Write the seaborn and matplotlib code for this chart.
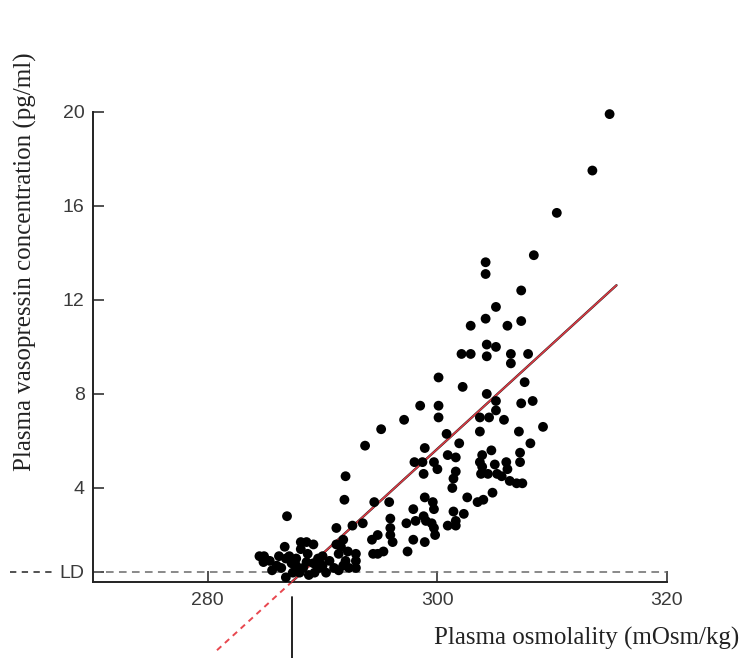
import matplotlib
matplotlib.use("Agg")
import matplotlib.pyplot as plt
from matplotlib.lines import Line2D
import seaborn as sns
import pandas as pd

# ---- data ----
osmolality = [
    315.0, 313.5, 310.4, 308.4, 304.2, 304.2, 307.3, 305.1, 304.2, 302.9,
    306.1, 307.3, 304.3, 305.1, 302.1, 302.9, 304.3, 306.4, 306.4, 307.9,
    300.1, 302.2, 304.3, 307.6, 305.1, 307.3, 308.3, 300.1, 298.5, 300.1,
    297.1, 295.1, 293.7, 305.1, 303.7, 304.5, 305.8, 309.2, 303.7, 307.1,
    300.8, 301.9, 308.1, 300.9, 301.6, 303.9, 304.7, 307.2, 307.2, 303.7,
    305.0, 306.0, 306.1, 303.8, 304.4, 305.2, 305.6, 301.6, 301.4, 301.3,
    306.3, 306.9, 307.4, 304.8, 302.6, 303.5, 304.0, 301.4, 302.3, 301.6,
    300.9, 301.6, 298.9, 298.0, 298.7, 299.7, 300.0, 298.8, 292.0, 291.9,
    294.5, 295.8, 298.9, 299.6, 299.7, 297.9, 295.9, 292.6, 293.5, 298.8,
    299.0, 299.5, 298.1, 297.3, 299.7, 295.9, 295.9, 296.1, 294.8, 294.3,
    297.9, 299.8, 298.9, 297.4, 294.4, 294.8, 295.3, 291.6, 291.4, 292.2,
    292.9, 292.9, 292.9, 292.0, 291.8, 292.3, 291.4, 286.9, 291.2, 286.7,
    288.6, 284.9, 284.85, 285.4, 286.0, 286.4, 287.1, 287.7, 288.1, 288.7,
    288.6, 288.3, 289.2, 289.6, 290.0, 290.6, 291.0, 286.8, 287.4, 288.0,
    289.3, 290.3, 291.2, 287.3, 286.8, 289.2, 291.8, 284.5, 285.6, 287.7,
    289.7, 288.8, 286.2, 288.1, 290.0, 303.9,
]
vasopressin = [
    19.9, 17.5, 15.7, 13.9, 13.6, 13.1, 12.4, 11.7, 11.2, 10.9,
    10.9, 11.1, 10.1, 10.0, 9.7, 9.7, 9.6, 9.7, 9.3, 9.7,
    8.7, 8.3, 8.0, 8.5, 7.7, 7.6, 7.7, 7.5, 7.5, 7.0,
    6.9, 6.5, 5.8, 7.3, 7.0, 7.0, 6.9, 6.6, 6.4, 6.4,
    6.3, 5.9, 5.9, 5.4, 5.3, 5.4, 5.6, 5.5, 5.1, 5.1,
    5.0, 5.1, 4.8, 4.6, 4.6, 4.6, 4.5, 4.7, 4.4, 4.0,
    4.3, 4.2, 4.2, 3.8, 3.6, 3.4, 3.5, 3.0, 2.9, 2.6,
    2.4, 2.4, 5.7, 5.1, 5.1, 5.1, 4.8, 4.6, 4.5, 3.5,
    3.4, 3.4, 3.6, 3.4, 3.1, 3.1, 2.7, 2.4, 2.5, 2.8,
    2.6, 2.5, 2.6, 2.5, 2.3, 2.3, 2.0, 1.7, 2.0, 1.8,
    1.8, 2.0, 1.7, 1.3, 1.2, 1.2, 1.3, 1.5, 1.2, 1.3,
    1.2, 0.9, 0.6, 0.9, 0.7, 0.6, 0.5, 2.8, 2.3, 1.5,
    1.7, 1.1, 0.85, 0.9, 0.7, 0.6, 1.1, 1.0, 1.4, 1.2,
    0.85, 0.6, 0.8, 1.0, 0.7, 0.9, 0.6, 0.2, 0.4, 0.4,
    0.4, 0.4, 1.6, 0.8, 1.0, 1.6, 1.8, 1.1, 0.5, 0.7,
    0.6, 0.3, 1.1, 1.7, 1.1, 4.9,
]
x_ticks = [280, 300, 320]
x_tick_labels = ["280", "300", "320"]
y_ticks = [4, 8, 12, 16, 20]
y_tick_labels = ["4", "8", "12", "16", "20"]
detection_limit = 0.43          # "LD"
threshold = 287.3               # osmotic threshold (x-intercept)
slope = 0.446                   # pg/ml per mOsm/kg
fit_end = 315.6
dashed_start = 280.8
x_range = [270, 320]
y_range = [-3.23, 20.5]

# ---- figure ----
sns.set_style("white")
plt.rcParams["font.family"] = ["Liberation Sans", "DejaVu Sans"]

fig = plt.figure(figsize=(7.52, 6.58), dpi=100)
ax = fig.add_axes([93 / 752, 0.0, 574 / 752, 558 / 658])
ax.set_facecolor("none")
fig.patch.set_facecolor("white")

df = pd.DataFrame({"osm": osmolality, "avp": vasopressin})

# LD dashed line inside the plot
ax.plot(x_range, [detection_limit, detection_limit], color="#6a6a6a",
        lw=1.1, ls=(0, (5, 3.5)), zorder=1)

# regression line: dashed extrapolation + solid fit
ax.plot([dashed_start, threshold],
        [slope * (dashed_start - threshold), 0.0],
        color="#e8474f", lw=1.4, ls=(0, (3, 2.5)), zorder=2)
ax.plot([threshold, fit_end], [0.0, slope * (fit_end - threshold)],
        color="#2a2020", lw=1.7, solid_capstyle="round", zorder=2)
ax.plot([threshold, fit_end], [0.0, slope * (fit_end - threshold)],
        color="#e03a44", lw=1.1, zorder=3)

# vertical threshold marker below the axis
ax.plot([threshold, threshold], [-0.65, y_range[0]], color="#111111",
        lw=1.3, zorder=2, clip_on=False)

sns.scatterplot(data=df, x="osm", y="avp", ax=ax, color="black", s=50,
                edgecolor="none", linewidth=0, zorder=4, legend=False,
                clip_on=False)

ax.set_xlim(*x_range)
ax.set_ylim(*y_range)

for side in ["top", "right"]:
    ax.spines[side].set_visible(False)
ax.spines["bottom"].set_position(("data", 0))
ax.spines["bottom"].set_bounds(x_range[0], x_range[1])
ax.spines["left"].set_bounds(0, 20)
for side in ["bottom", "left"]:
    ax.spines[side].set_color("#222222")
    ax.spines[side].set_linewidth(1.4)

ax.set_xticks(x_ticks)
ax.set_xticklabels(x_tick_labels)
ax.set_yticks([detection_limit] + y_ticks)
ax.set_yticklabels(["LD"] + y_tick_labels)
ax.tick_params(axis="both", direction="in", length=8, width=1.1,
               color="#222222", labelsize=14, labelcolor="#3a3a3a",
               bottom=True, left=True, top=False, right=False)
ax.tick_params(axis="x", pad=7)
ax.tick_params(axis="y", pad=6)
ax.set_xlabel("")
ax.set_ylabel("")

# dashes to the left of "LD"
y_ld = 1 - 572 / 658
fig.add_artist(Line2D([10 / 752, 52 / 752], [y_ld, y_ld], color="#444444",
                      lw=1.3, ls=(0, (3.5, 3))))

# axis labels (serif)
fig.text(25 / 752, 1 - 262 / 658, "Plasma vasopressin concentration (pg/ml)",
         rotation=90, ha="center", va="center", fontsize=18,
         family=["Liberation Serif", "DejaVu Serif"], color="#222222")
fig.text(587 / 752, 1 - 638 / 658, "Plasma osmolality (mOsm/kg)",
         ha="center", va="center", fontsize=18,
         family=["Liberation Serif", "DejaVu Serif"], color="#222222")

fig.savefig("out.png", dpi=100)
